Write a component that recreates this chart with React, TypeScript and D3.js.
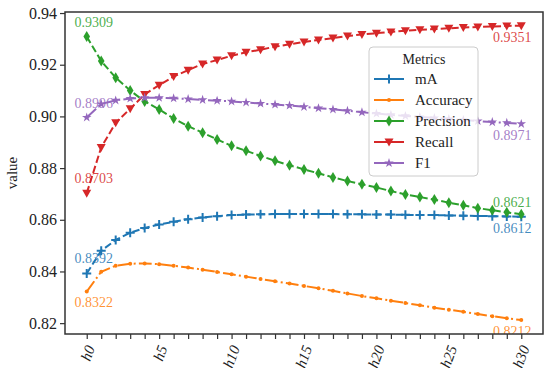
import React, { useEffect, useRef } from 'react';
import * as d3 from 'd3';

const STEPS = [
  'h0', 'h1', 'h2', 'h3', 'h4', 'h5', 'h6', 'h7', 'h8', 'h9', 'h10',
  'h11', 'h12', 'h13', 'h14', 'h15', 'h16', 'h17', 'h18', 'h19', 'h20',
  'h21', 'h22', 'h23', 'h24', 'h25', 'h26', 'h27', 'h28', 'h29', 'h30',
];
const X_TICK_LABELS = ['h0', 'h5', 'h10', 'h15', 'h20', 'h25', 'h30'];
const Y_TICKS = [0.82, 0.84, 0.86, 0.88, 0.9, 0.92, 0.94];

const MA = [
  0.8392, 0.8480, 0.8522, 0.8550, 0.8568, 0.8582, 0.8592, 0.8602, 0.8609, 0.8614, 0.8618,
  0.8620, 0.8621, 0.8622, 0.8622, 0.8622, 0.8622, 0.8622, 0.8621, 0.8621, 0.8620,
  0.8620, 0.8619, 0.8618, 0.8618, 0.8617, 0.8616, 0.8615, 0.8614, 0.8613, 0.8612,
];
const ACCURACY = [
  0.8322, 0.8399, 0.8422, 0.8430, 0.8431, 0.8428, 0.8422, 0.8415, 0.8407, 0.8398, 0.8389,
  0.8380, 0.8371, 0.8362, 0.8353, 0.8344, 0.8335, 0.8325, 0.8315, 0.8305, 0.8296,
  0.8287, 0.8278, 0.8269, 0.8260, 0.8252, 0.8244, 0.8235, 0.8227, 0.8219, 0.8212,
];
const PRECISION = [
  0.9309, 0.9214, 0.9150, 0.9100, 0.9058, 0.9027, 0.8992, 0.8962, 0.8937, 0.8911, 0.8886,
  0.8867, 0.8847, 0.8828, 0.8811, 0.8795, 0.8780, 0.8764, 0.8750, 0.8737, 0.8725,
  0.8711, 0.8698, 0.8688, 0.8678, 0.8666, 0.8656, 0.8645, 0.8637, 0.8629, 0.8621,
];
const RECALL = [
  0.8703, 0.8880, 0.8975, 0.9030, 0.9085, 0.9121, 0.9154, 0.9179, 0.9203, 0.9218, 0.9235,
  0.9248, 0.9258, 0.9270, 0.9279, 0.9288, 0.9296, 0.9303, 0.9311, 0.9317, 0.9322,
  0.9327, 0.9331, 0.9335, 0.9338, 0.9341, 0.9344, 0.9346, 0.9348, 0.9350, 0.9351,
];
const F1 = [
  0.8996, 0.9048, 0.9062, 0.9069, 0.9072, 0.9072, 0.9070, 0.9067, 0.9064, 0.9061, 0.9058,
  0.9054, 0.9050, 0.9046, 0.9042, 0.9037, 0.9032, 0.9027, 0.9022, 0.9016, 0.9011,
  0.9006, 0.9002, 0.8998, 0.8994, 0.8990, 0.8986, 0.8982, 0.8978, 0.8975, 0.8971,
];

const SERIES_NAMES = ['mA', 'Accuracy', 'Precision', 'Recall', 'F1'];
const SERIES_VALUES = [MA, ACCURACY, PRECISION, RECALL, F1];

const COLORS = ['#1f77b4', '#ff7f0e', '#2ca02c', '#d62728', '#9467bd'];
const DASHES = ['7.4,3.2', '12.8,3.2,2,3.2', '7.4,3.2', '7.4,3.2', '12.8,3.2,2,3.2'];
const MARKERS = ['plus', 'point', 'thin_diamond', 'tri_down', 'star'];
// label offsets: [first dy, last dy]
const LABEL_DY = [[-15, 12], [11, 11], [-14, -12], [-15, 12], [-14, 12]];

const FONT = '"Liberation Serif", "DejaVu Serif", serif';

function drawMarker(g, kind, x, y, color) {
  if (kind === 'plus') {
    g.append('path')
      .attr('d', `M${x - 4.5},${y}H${x + 4.5}M${x},${y - 4.5}V${y + 4.5}`)
      .attr('stroke', color)
      .attr('stroke-width', 2);
  } else if (kind === 'point') {
    g.append('circle').attr('cx', x).attr('cy', y).attr('r', 2).attr('fill', color);
  } else if (kind === 'thin_diamond') {
    g.append('path')
      .attr('d', `M${x},${y - 5.5}L${x + 3.3},${y}L${x},${y + 5.5}L${x - 3.3},${y}Z`)
      .attr('fill', color);
  } else if (kind === 'tri_down') {
    g.append('path')
      .attr('d', `M${x - 4.5},${y - 3.5}L${x + 4.5},${y - 3.5}L${x},${y + 4.5}Z`)
      .attr('fill', color);
  } else if (kind === 'star') {
    g.append('path')
      .attr('d', d3.symbol().type(d3.symbolStar).size(28)())
      .attr('transform', `translate(${x},${y})`)
      .attr('fill', color);
  }
}

export default function App() {
  const ref = useRef(null);

  useEffect(() => {
    const el = ref.current;
    d3.select(el).selectAll('*').remove();

    const W = 545;
    const H = 368;
    const left = 65;
    const right = 543;
    const top = 12;
    const bottom = 334;

    const svg = d3
      .select(el)
      .append('svg')
      .attr('width', W)
      .attr('height', H)
      .style('position', 'absolute')
      .style('left', '0px')
      .style('top', '0px')
      .style('background', '#fff');

    const x = d3.scaleLinear().domain([-1.5, STEPS.length - 1 + 1.5]).range([left, right]);
    const y = d3.scaleLinear().domain([0.8158, 0.9404]).range([bottom, top]);

    svg.append('defs')
      .append('clipPath')
      .attr('id', 'plot-clip')
      .append('rect')
      .attr('x', left)
      .attr('y', top)
      .attr('width', right - left)
      .attr('height', bottom - top);

    // y axis
    const yAxis = svg.append('g').attr('transform', `translate(${left},0)`);
    yAxis.call(d3.axisLeft(y).tickValues(Y_TICKS).tickFormat(d3.format('.2f')).tickSize(5).tickSizeOuter(0));
    yAxis.select('.domain').remove();
    yAxis.selectAll('.tick line').attr('stroke', '#333').attr('stroke-width', 1.2);
    yAxis.selectAll('text')
      .attr('fill', '#222')
      .attr('font-size', '16px')
      .attr('font-family', FONT)
      .attr('x', -8);

    // x axis
    const xAxis = svg.append('g').attr('transform', `translate(0,${bottom})`);
    xAxis.call(
      d3.axisBottom(x)
        .tickValues(d3.range(STEPS.length))
        .tickFormat((i) => (X_TICK_LABELS.includes(STEPS[i]) ? STEPS[i] : ''))
        .tickSize(5)
        .tickSizeOuter(0),
    );
    xAxis.select('.domain').remove();
    xAxis.selectAll('.tick line').attr('stroke', '#333').attr('stroke-width', 1.2);
    xAxis.selectAll('text')
      .attr('fill', '#222')
      .attr('font-size', '15px')
      .attr('font-style', 'italic')
      .attr('font-family', FONT)
      .attr('text-anchor', 'end')
      .attr('dy', '0.35em')
      .attr('y', 0)
      .attr('transform', 'translate(3,12) rotate(-70)');

    // y label
    svg.append('text')
      .attr('transform', `translate(17,${(top + bottom) / 2}) rotate(-90)`)
      .attr('text-anchor', 'middle')
      .attr('fill', '#222')
      .attr('font-size', '15px')
      .attr('font-family', FONT)
      .text('value');

    // series
    const plot = svg.append('g').attr('clip-path', 'url(#plot-clip)');
    const line = d3.line().x((d, i) => x(i)).y((d) => y(d));

    SERIES_VALUES.forEach((vals, s) => {
      plot.append('path')
        .attr('d', line(vals))
        .attr('fill', 'none')
        .attr('stroke', COLORS[s])
        .attr('stroke-width', 2)
        .attr('stroke-dasharray', DASHES[s]);
      vals.forEach((v, i) => drawMarker(plot, MARKERS[s], x(i), y(v), COLORS[s]));
    });

    // end-point annotations
    const labels = svg.append('g').attr('clip-path', 'url(#plot-clip)');
    SERIES_VALUES.forEach((vals, s) => {
      const last = vals.length - 1;
      [[0, 7, LABEL_DY[s][0]], [last, -9, LABEL_DY[s][1]]].forEach(([i, dx, dy]) => {
        labels.append('text')
          .attr('x', x(i) + dx)
          .attr('y', y(vals[i]) + dy)
          .attr('text-anchor', 'middle')
          .attr('dominant-baseline', 'central')
          .attr('fill', COLORS[s])
          .attr('fill-opacity', 0.85)
          .attr('font-size', '14px')
          .attr('font-family', FONT)
          .text(vals[i].toFixed(4));
      });
    });

    // frame
    svg.append('rect')
      .attr('x', left)
      .attr('y', top)
      .attr('width', right - left)
      .attr('height', bottom - top)
      .attr('fill', 'none')
      .attr('stroke', '#333')
      .attr('stroke-width', 1.5);

    // legend
    const lg = svg.append('g').attr('transform', 'translate(369,47)');
    lg.append('rect')
      .attr('width', 109)
      .attr('height', 129)
      .attr('rx', 4)
      .attr('fill', '#fff')
      .attr('fill-opacity', 0.8)
      .attr('stroke', '#ccc')
      .attr('stroke-width', 1);
    lg.append('text')
      .attr('x', 55)
      .attr('y', 12)
      .attr('text-anchor', 'middle')
      .attr('dominant-baseline', 'central')
      .attr('fill', '#222')
      .attr('font-size', '14px')
      .attr('font-family', FONT)
      .text('Metrics');
    SERIES_NAMES.forEach((name, s) => {
      const cy = 32 + s * 21;
      lg.append('line')
        .attr('x1', 5)
        .attr('x2', 35)
        .attr('y1', cy)
        .attr('y2', cy)
        .attr('stroke', COLORS[s])
        .attr('stroke-width', 2);
      drawMarker(lg, MARKERS[s], 20, cy, COLORS[s]);
      lg.append('text')
        .attr('x', 46)
        .attr('y', cy)
        .attr('dominant-baseline', 'central')
        .attr('fill', '#222')
        .attr('font-size', '15px')
        .attr('font-family', FONT)
        .text(name);
    });
  }, []);

  return <div ref={ref} />;
}
